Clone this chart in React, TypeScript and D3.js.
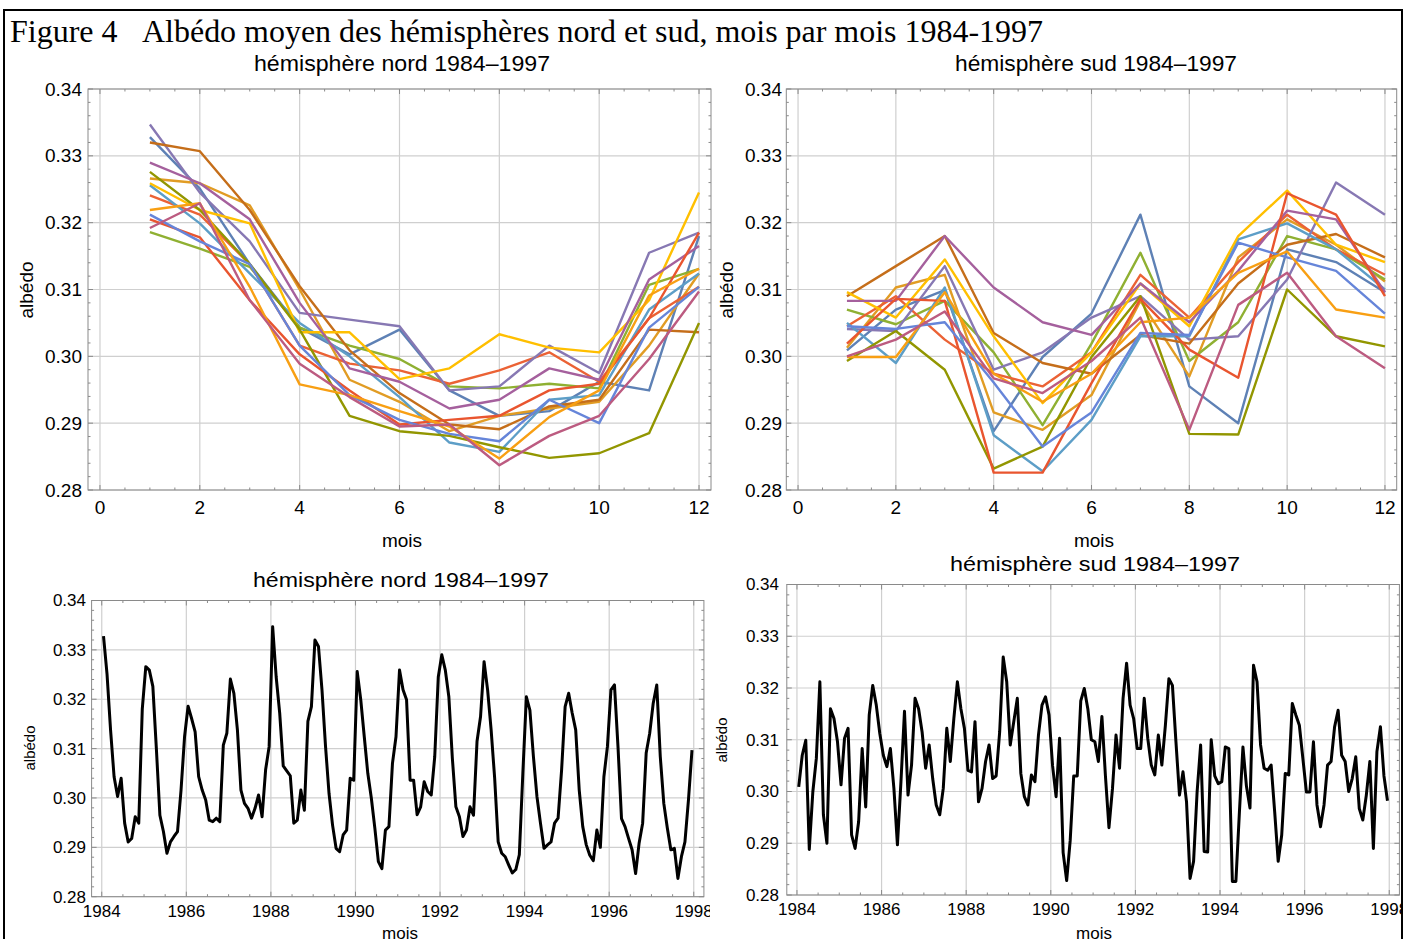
import React from 'react';
import * as d3 from 'd3';

// ---------- categories ----------
const YEARS = [1984, 1985, 1986, 1987, 1988, 1989, 1990, 1991, 1992, 1993, 1994, 1995, 1996, 1997];
const MONTHS = [1, 2, 3, 4, 5, 6, 7, 8, 9, 10, 11, 12];

// ---------- tick labels ----------
const MONTH_TICKS = [0, 2, 4, 6, 8, 10, 12];
const YEAR_TICKS = [1984, 1986, 1988, 1990, 1992, 1994, 1996, 1998];
const ALBEDO_TICKS = [0.28, 0.29, 0.3, 0.31, 0.32, 0.33, 0.34];

// one colour per year (Mathematica default palette)
const YEAR_COLORS = ['#5E81B5', '#E19C24', '#8FB032', '#EB6235', '#8778B3', '#C56E1A', '#5D9EC7',
  '#FFBF00', '#A5609D', '#929600', '#E9552F', '#6685D9', '#F89F13', '#BC5B80'];

// ---------- values: northern hemisphere, one row per year, Jan..Dec ----------
const NORTH: number[][] = [
  [0.3328, 0.3251, 0.3138, 0.3043, 0.3003, 0.3040, 0.2949, 0.2911, 0.2918, 0.2962, 0.2949, 0.3180], // 1984
  [0.3266, 0.3259, 0.3226, 0.3100, 0.2965, 0.2932, 0.2888, 0.2911, 0.2922, 0.2932, 0.3016, 0.3124], // 1985
  [0.3186, 0.3161, 0.3134, 0.3043, 0.3016, 0.2996, 0.2955, 0.2952, 0.2959, 0.2952, 0.3107, 0.3131], // 1986
  [0.3241, 0.3212, 0.3138, 0.3016, 0.2989, 0.2979, 0.2959, 0.2979, 0.3006, 0.2962, 0.3057, 0.3104], // 1987
  [0.3347, 0.3245, 0.3172, 0.3065, 0.3055, 0.3045, 0.2949, 0.2955, 0.3016, 0.2975, 0.3155, 0.3185], // 1988
  [0.3320, 0.3307, 0.3219, 0.3105, 0.3009, 0.2945, 0.2898, 0.2891, 0.2925, 0.2935, 0.3040, 0.3036], // 1989
  [0.3256, 0.3199, 0.3124, 0.3050, 0.3000, 0.2939, 0.2871, 0.2857, 0.2935, 0.2942, 0.3070, 0.3124], // 1990
  [0.3259, 0.3219, 0.3199, 0.3036, 0.3036, 0.2966, 0.2982, 0.3033, 0.3013, 0.3006, 0.3084, 0.3245], // 1991
  [0.3290, 0.3259, 0.3205, 0.3080, 0.2982, 0.2962, 0.2922, 0.2935, 0.2982, 0.2965, 0.3115, 0.3165], // 1992
  [0.3276, 0.3219, 0.3138, 0.3040, 0.2911, 0.2888, 0.2881, 0.2864, 0.2848, 0.2855, 0.2885, 0.3050], // 1993
  [0.3205, 0.3178, 0.3084, 0.3003, 0.2949, 0.2898, 0.2905, 0.2911, 0.2949, 0.2959, 0.3057, 0.3185], // 1994
  [0.3212, 0.3172, 0.3138, 0.3016, 0.2942, 0.2905, 0.2884, 0.2873, 0.2935, 0.2900, 0.3043, 0.3104], // 1995
  [0.3219, 0.3229, 0.3104, 0.2958, 0.2942, 0.2918, 0.2895, 0.2847, 0.2909, 0.2949, 0.3091, 0.3131], // 1996
  [0.3192, 0.3229, 0.3084, 0.2989, 0.2939, 0.2895, 0.2898, 0.2837, 0.2881, 0.2911, 0.2996, 0.3097], // 1997
];

// ---------- values: southern hemisphere, one row per year, Jan..Dec ----------
const SOUTH: number[][] = [
  [0.3009, 0.3070, 0.3099, 0.2888, 0.2999, 0.3064, 0.3212, 0.2955, 0.2900, 0.3160, 0.3141, 0.3096], // 1984
  [0.3013, 0.3103, 0.3122, 0.2916, 0.2890, 0.2942, 0.3083, 0.2970, 0.3148, 0.3205, 0.3167, 0.3112], // 1985
  [0.3070, 0.3048, 0.3083, 0.3006, 0.2897, 0.3019, 0.3155, 0.2993, 0.3051, 0.3180, 0.3160, 0.3115], // 1986
  [0.3045, 0.3090, 0.3025, 0.2974, 0.2955, 0.3006, 0.3122, 0.3058, 0.3141, 0.3212, 0.3160, 0.3122], // 1987
  [0.3041, 0.3038, 0.3135, 0.2980, 0.3006, 0.3058, 0.3090, 0.3025, 0.3030, 0.3115, 0.3260, 0.3212], // 1988
  [0.3090, 0.3135, 0.3180, 0.3035, 0.2990, 0.2974, 0.3032, 0.3019, 0.3109, 0.3167, 0.3183, 0.3148], // 1989
  [0.3050, 0.2990, 0.3103, 0.2882, 0.2828, 0.2905, 0.3030, 0.3030, 0.3175, 0.3199, 0.3160, 0.3100], // 1990
  [0.3096, 0.3058, 0.3145, 0.3030, 0.2930, 0.3006, 0.3109, 0.3045, 0.3180, 0.3248, 0.3167, 0.3141], // 1991
  [0.3083, 0.3083, 0.3180, 0.3103, 0.3051, 0.3032, 0.3109, 0.3051, 0.3128, 0.3218, 0.3205, 0.3096], // 1992
  [0.2993, 0.3038, 0.2980, 0.2832, 0.2865, 0.2999, 0.3090, 0.2884, 0.2883, 0.3100, 0.3030, 0.3015], // 1993
  [0.3019, 0.3086, 0.3083, 0.2826, 0.2826, 0.2960, 0.3086, 0.3010, 0.2968, 0.3244, 0.3212, 0.3090], // 1994
  [0.3045, 0.3041, 0.3051, 0.2961, 0.2865, 0.2916, 0.3035, 0.3032, 0.3170, 0.3148, 0.3128, 0.3064], // 1995
  [0.2999, 0.2999, 0.3096, 0.2974, 0.2932, 0.2974, 0.3051, 0.3058, 0.3125, 0.3157, 0.3070, 0.3058], // 1996
  [0.3000, 0.3025, 0.3067, 0.2967, 0.2945, 0.2993, 0.3058, 0.2890, 0.3077, 0.3125, 0.3030, 0.2982], // 1997
];

const SANS = "'Liberation Sans', Arial, Helvetica, sans-serif";
const SERIF = "'Liberation Serif', 'Times New Roman', Times, serif";

type Series = { xs: number[]; ys: number[]; color: string; width: number };

type PanelProps = {
  id: string;
  left: number; right: number; top: number; bottom: number;
  xDomain: [number, number];
  xTicks: number[]; xMinorStep: number;
  clipRight: number;
  tickFont: number; xLabelY: number; yLabelX: number;
  title: string; titleX: number; titleY: number; titleFont: number; titleLen: number;
  xTitleY: number; xTitleX: number; axisFont: number;
  yTitleX: number; yTitleY: number; yTitleFont: number;
  series: Series[];
};

function Panel(p: PanelProps) {
  const x = d3.scaleLinear().domain(p.xDomain).range([p.left, p.right]);
  const y = d3.scaleLinear().domain([0.28, 0.34]).range([p.bottom, p.top]);
  const line = d3.line<[number, number]>().x(d => x(d[0])).y(d => y(d[1]));

  const x0 = p.xTicks[0];
  const x1 = p.xTicks[p.xTicks.length - 1];
  const xMinor = d3.range(x0, x1 + 1e-9, p.xMinorStep).filter(v => !p.xTicks.includes(v));
  const yMinor = d3.range(0.28, 0.34 + 1e-9, 0.002).filter(v => !ALBEDO_TICKS.some(t => Math.abs(t - v) < 1e-9));

  const frame = '#8a8a8a';
  const grid = '#cfcfcf';
  const maj = 5, mnr = 2.5;

  return (
    <g>
      <defs>
        <clipPath id={p.id + '-clip'}>
          <rect x={0} y={0} width={p.clipRight} height={1000} />
        </clipPath>
      </defs>
      <g clipPath={`url(#${p.id}-clip)`}>
        {/* grid */}
        {p.xTicks.map(t => (
          <line key={'gx' + t} x1={x(t)} x2={x(t)} y1={p.top} y2={p.bottom} stroke={grid} strokeWidth={1.2} />
        ))}
        {ALBEDO_TICKS.map(t => (
          <line key={'gy' + t} x1={p.left} x2={p.right} y1={y(t)} y2={y(t)} stroke={grid} strokeWidth={1.2} />
        ))}
        {/* data */}
        {p.series.map((s, i) => (
          <path key={'s' + i} d={line(s.xs.map((v, k) => [v, s.ys[k]] as [number, number])) || ''}
            fill="none" stroke={s.color} strokeWidth={s.width} strokeLinejoin="round" />
        ))}
        {/* frame */}
        <rect x={p.left} y={p.top} width={p.right - p.left} height={p.bottom - p.top} fill="none" stroke={frame} strokeWidth={1} />
        {/* ticks */}
        {p.xTicks.map(t => (
          <g key={'tx' + t}>
            <line x1={x(t)} x2={x(t)} y1={p.bottom} y2={p.bottom - maj} stroke={frame} />
            <line x1={x(t)} x2={x(t)} y1={p.top} y2={p.top + maj} stroke={frame} />
          </g>
        ))}
        {xMinor.map(t => (
          <g key={'mx' + t}>
            <line x1={x(t)} x2={x(t)} y1={p.bottom} y2={p.bottom - mnr} stroke={frame} />
            <line x1={x(t)} x2={x(t)} y1={p.top} y2={p.top + mnr} stroke={frame} />
          </g>
        ))}
        {ALBEDO_TICKS.map(t => (
          <g key={'ty' + t}>
            <line x1={p.left} x2={p.left + maj} y1={y(t)} y2={y(t)} stroke={frame} />
            <line x1={p.right} x2={p.right - maj} y1={y(t)} y2={y(t)} stroke={frame} />
          </g>
        ))}
        {yMinor.map(t => (
          <g key={'my' + t}>
            <line x1={p.left} x2={p.left + mnr} y1={y(t)} y2={y(t)} stroke={frame} />
            <line x1={p.right} x2={p.right - mnr} y1={y(t)} y2={y(t)} stroke={frame} />
          </g>
        ))}
        {/* tick labels */}
        {p.xTicks.map(t => (
          <text key={'lx' + t} x={x(t)} y={p.xLabelY} dy="0.35em" textAnchor="middle" fontSize={p.tickFont} fontFamily={SANS}>
            {String(t)}
          </text>
        ))}
        {ALBEDO_TICKS.map(t => (
          <text key={'ly' + t} x={p.yLabelX} y={y(t)} dy="0.35em" textAnchor="end" fontSize={p.tickFont} fontFamily={SANS}>
            {t.toFixed(2)}
          </text>
        ))}
        {/* titles */}
        <text x={p.titleX} y={p.titleY} dy="0.35em" textAnchor="middle" fontSize={p.titleFont} fontFamily={SANS}
          textLength={p.titleLen} lengthAdjust="spacingAndGlyphs">{p.title}</text>
        <text x={p.xTitleX} y={p.xTitleY} dy="0.35em" textAnchor="middle" fontSize={p.axisFont} fontFamily={SANS}>mois</text>
        <text transform={`translate(${p.yTitleX},${p.yTitleY}) rotate(-90)`} dy="0.35em" textAnchor="middle"
          fontSize={p.yTitleFont} fontFamily={SANS}>albédo</text>
      </g>
    </g>
  );
}

function monthlySeries(rows: number[][]): Series[] {
  return rows.map((row, i) => ({ xs: MONTHS, ys: row, color: YEAR_COLORS[i], width: 2.4 }));
}

function timeSeries(rows: number[][]): Series[] {
  const xs: number[] = [];
  const ys: number[] = [];
  YEARS.forEach((yr, i) => {
    MONTHS.forEach((m, j) => {
      xs.push(yr + (m - 0.5) / 12);
      ys.push(rows[i][j]);
    });
  });
  return [{ xs, ys, color: '#000', width: 3 }];
}

export default function App() {
  return (
    <svg width={1405} height={939} style={{ position: 'absolute', left: 0, top: 0, background: '#fff', display: 'block' }}>
      <rect x={0} y={0} width={1405} height={939} fill="#fff" />
      <rect x={4} y={10} width={1398} height={960} fill="none" stroke="#000" strokeWidth={2} />
      <text x={10} y={42} fontFamily={SERIF} fontSize={32}>Figure 4</text>
      <text x={142} y={42} fontFamily={SERIF} fontSize={32} textLength={901} lengthAdjust="spacingAndGlyphs">
        Albédo moyen des hémisphères nord et sud, mois par mois 1984-1997
      </text>

      <Panel id="tl" left={88} right={711} top={89} bottom={490} xDomain={[-0.24, 12.24]}
        xTicks={MONTH_TICKS} xMinorStep={0.5} clipRight={1405}
        tickFont={19} xLabelY={507} yLabelX={82}
        title="hémisphère nord 1984–1997" titleX={402} titleY={63} titleFont={22} titleLen={296}
        xTitleX={402} xTitleY={540} axisFont={19}
        yTitleX={26} yTitleY={290} yTitleFont={19}
        series={monthlySeries(NORTH)} />

      <Panel id="tr" left={786.3} right={1396.7} top={89} bottom={490} xDomain={[-0.24, 12.24]}
        xTicks={MONTH_TICKS} xMinorStep={0.5} clipRight={1405}
        tickFont={19} xLabelY={507} yLabelX={782}
        title="hémisphère sud 1984–1997" titleX={1096} titleY={63} titleFont={22} titleLen={282}
        xTitleX={1094} xTitleY={540} axisFont={19}
        yTitleX={726} yTitleY={290} yTitleFont={19}
        series={monthlySeries(SOUTH)} />

      <Panel id="bl" left={91.6} right={703.9} top={600.5} bottom={896.7} xDomain={[1983.76, 1998.24]}
        xTicks={YEAR_TICKS} xMinorStep={0.5} clipRight={710}
        tickFont={17} xLabelY={911} yLabelX={86}
        title="hémisphère nord 1984–1997" titleX={401} titleY={580} titleFont={20} titleLen={296}
        xTitleX={400} xTitleY={933} axisFont={17}
        yTitleX={30} yTitleY={748} yTitleFont={15}
        series={timeSeries(NORTH)} />

      <Panel id="br" left={786.8} right={1399.4} top={584.5} bottom={895} xDomain={[1983.76, 1998.24]}
        xTicks={YEAR_TICKS} xMinorStep={0.5} clipRight={1402}
        tickFont={17} xLabelY={909} yLabelX={779}
        title="hémisphère sud 1984–1997" titleX={1095} titleY={564} titleFont={20} titleLen={290}
        xTitleX={1094} xTitleY={933} axisFont={17}
        yTitleX={722} yTitleY={740} yTitleFont={15}
        series={timeSeries(SOUTH)} />
    </svg>
  );
}
